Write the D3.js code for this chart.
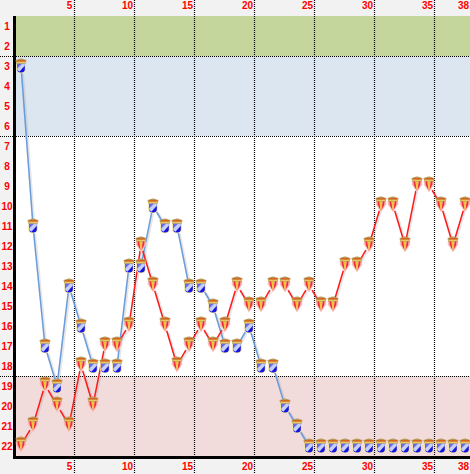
<!DOCTYPE html>
<html><head><meta charset="utf-8">
<style>html,body{margin:0;padding:0;background:#f2f2f2;overflow:hidden}svg{display:block}
text{font-family:"Liberation Sans",sans-serif;font-weight:700;font-size:10px;fill:#ff0000}</style>
<script src="https://cdn.jsdelivr.net/npm/d3@7"></script></head><body>
<script>
const matchdays = d3.range(1, 39);
const ranks = d3.range(1, 23);
const blueRanks = [3,11,17,19,14,16,18,18,18,13,13,10,11,11,14,14,15,17,17,16,18,18,20,21,22,22,22,22,22,22,22,22,22,22,22,22,22,22];
const redRanks = [22,21,19,20,21,18,20,17,17,16,12,14,16,18,17,16,17,16,14,15,15,14,14,15,14,15,15,13,13,12,10,10,12,9,9,10,12,10];
const zones = [{from:1,to:2,color:"#c5d69c"},{from:3,to:6,color:"#dce6f0"},{from:19,to:22,color:"#f2dcdb"}];
const xTicks = [5,10,15,20,25,30,35,38];
const gridMatchdays = [5,10,15,20,25,30,35];
const gridRanks = [2,6,18];

const W = 470, H = 474;
const x = d3.scaleLinear().domain([1,38]).range([21,465]);
const y = d3.scaleLinear().domain([1,22]).range([26,446]);
const svg = d3.select("body").append("svg").attr("width",W).attr("height",H);

svg.append("rect").attr("x",16).attr("y",y(1)-10).attr("width",W-16).attr("height",y(22)-y(1)+20).attr("fill","#fff");
svg.selectAll(".zone").data(zones).join("rect").attr("class","zone")
  .attr("x",16).attr("width",W-16)
  .attr("y",d=>y(d.from)-10).attr("height",d=>y(d.to)-y(d.from)+20).attr("fill",d=>d.color);

svg.selectAll(".gv").data(gridMatchdays).join("line").attr("class","gv")
  .attr("x1",d=>x(d)+5.5).attr("x2",d=>x(d)+5.5).attr("y1",0).attr("y2",H)
  .attr("stroke","#000").attr("stroke-dasharray","1,1").attr("stroke-width",1.2);
svg.selectAll(".gh").data(gridRanks).join("line").attr("class","gh")
  .attr("x1",0).attr("x2",W).attr("y1",d=>y(d)+10.5).attr("y2",d=>y(d)+10.5)
  .attr("stroke","#000").attr("stroke-dasharray","1,1").attr("stroke-width",1.2);

svg.append("rect").attr("x",13).attr("y",16).attr("width",3).attr("height",443).attr("fill","#000");
svg.append("rect").attr("x",13).attr("y",456).attr("width",W-13).attr("height",3).attr("fill","#000");

const axTop = svg.append("g").attr("transform","translate(0,10)").call(d3.axisTop(x).tickValues(xTicks).tickSize(0).tickPadding(0).tickFormat(d3.format("d")));
const axBot = svg.append("g").attr("transform","translate(0,463)").call(d3.axisBottom(x).tickValues(xTicks).tickSize(0).tickPadding(0).tickFormat(d3.format("d")));
const axLeft = svg.append("g").attr("transform","translate(7,0)").call(d3.axisLeft(y).tickValues(ranks).tickSize(0).tickPadding(0).tickFormat(d3.format("d")));
[axTop,axBot,axLeft].forEach(a=>{a.select(".domain").remove();a.selectAll("text").attr("font-family",null).attr("font-size",null).attr("fill",null);});
axTop.selectAll("text").attr("dy","0.34em").attr("y",-4).attr("x",d=>d>=10?-2:0);
axBot.selectAll("text").attr("dy","0.34em").attr("y",4).attr("x",d=>d>=10?-2:0);
axLeft.selectAll("text").attr("text-anchor","middle").attr("dy","0.34em");

function segments(vals,offset,gap){
  const pts = vals.map((r,i)=>[x(matchdays[i]),y(r)+offset]);
  const out=[];
  d3.pairs(pts).forEach(([a,b])=>{
    const dx=b[0]-a[0],dy=b[1]-a[1],len=Math.hypot(dx,dy);
    if(len<=20) return;
    const g=gap/len;
    out.push([a[0]+dx*g,a[1]+dy*g,b[0]-dx*g,b[1]-dy*g]);
  });
  return out;
}
function drawLine(vals,color,offset,gap){
  const g=svg.append("g");
  const segs=segments(vals,offset,gap);
  g.selectAll(".sh").data(segs).join("line").attr("class","sh")
    .attr("x1",d=>d[0]+1).attr("y1",d=>d[1]+1).attr("x2",d=>d[2]+1).attr("y2",d=>d[3]+1)
    .attr("stroke","#888").attr("stroke-opacity",.2).attr("stroke-width",3);
  g.selectAll(".ln").data(segs).join("line").attr("class","ln")
    .attr("x1",d=>d[0]).attr("y1",d=>d[1]).attr("x2",d=>d[2]).attr("y2",d=>d[3])
    .attr("stroke",color).attr("stroke-width",1.5);
}
drawLine(blueRanks,"#6a9cdc",0,7);
drawLine(redRanks,"#ff1a1a",-1,6);

function crown(g,cy){
  g.append("path").attr("d",`M-4.8 ${cy+4.5}L-5.5 ${cy+1}L-3.5 ${cy+.5}L-1.5 ${cy-.3}L0 ${cy-.6}L1.5 ${cy-.3}L3.5 ${cy+.5}L5.5 ${cy+1}L4.8 ${cy+4.5}Z`).attr("fill","#b8985a");
  g.append("rect").attr("x",-4).attr("y",cy+1).attr("width",8).attr("height",1.6).attr("fill","#d9641e");
  g.append("rect").attr("x",-4.5).attr("y",cy+2.8).attr("width",9).attr("height",1.2).attr("fill","#e8c860");
}
function blue(sel){
  sel.each(function(){
    const g=d3.select(this);
    g.append("path").attr("d","M-4.8 -3H4.8V3.5Q4.8 7.3 0 7.3Q-4.8 7.3 -4.8 3.5Z").attr("fill","#f2e3a2");
    g.append("path").attr("d","M-3.8 -2.2H3.8V3.4Q3.8 6.4 0 6.4Q-3.8 6.4 -3.8 3.4Z").attr("fill","#1414e0");
    g.append("path").attr("d","M-3.8 -2.2H1.5L-3.8 3.5Z").attr("fill","#6a6cf0");
    g.append("path").attr("d","M1 -2.2H3.8V-.2L-1.6 5.8L-3.8 4V2.5Z").attr("fill","#c6d0f4");
    crown(g,-7);
  });
}
function red(sel){
  sel.each(function(){
    const g=d3.select(this);
    g.append("path").attr("d","M-5.2 -5H5.2V-1.5L0 6.6L-5.2 -1.5Z").attr("fill","#f8bcbc");
    g.append("path").attr("d","M-3.6 -5H-1.8L-0.4 4.2L-3.2 -1ZM3.6 -5H1.8L0.4 4.2L3.2 -1Z").attr("fill","#ee2f35");
    g.append("path").attr("d","M-1.2 -5H1.2L0.5 3.5H-0.5Z").attr("fill","#f1c72e");
    crown(g,-9);
  });
}
svg.append("g").selectAll("g").data(redRanks).join("g")
  .attr("transform",(d,i)=>`translate(${x(matchdays[i])},${y(d)})`).call(red);
svg.append("g").selectAll("g").data(blueRanks).join("g")
  .attr("transform",(d,i)=>`translate(${x(matchdays[i])},${y(d)})`).call(blue);
</script></body></html>
